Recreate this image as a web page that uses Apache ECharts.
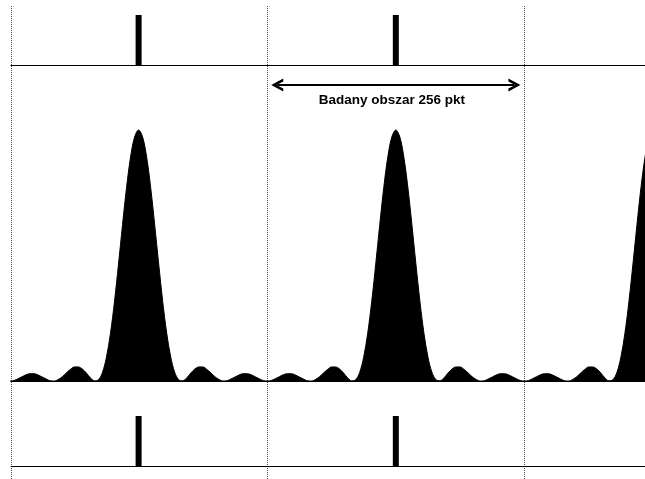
<!DOCTYPE html>
<html><head><meta charset="utf-8">
<script src="https://cdn.jsdelivr.net/npm/echarts@6/dist/echarts.min.js"></script>
<style>html,body{margin:0;padding:0;background:#fff}#c{width:645px;height:479px}</style>
</head><body><div id="c"></div>
<script>
// sample positions (points)
const sampleX = [
-1,3,7,11,15,19,23,27,31,35,39,43,47,51,55,59,63,67,71,75,79,83,87,91,95,99,103,107,111,115,119,123,
127,131,135,139,143,147,151,155,159,163,167,171,175,179,183,187,191,195,199,203,207,211,215,219,223,227,231,235,239,243,247,251,
255,259,263,267,271,275,279,283,287,291,295,299,303,307,311,315,319,323,327,331,335,339,343,347,351,355,359,363,367,371,375,379,
383,387,391,395,399,403,407,411,415,419,423,427,431,435,439,443,447,451,455,459,463,467,471,475,479,483,487,491,495,499,503,507,
511,515,519,523,527,531,535,539,543,547,551,555,559,563,567,571,575,579,583,587,591,595,599,603,607,611,615,619,623,627,631,635,
639,643
];
// signal amplitude (peak = 1)
const signal = [
0.000,0.002,0.009,0.017,0.025,0.029,0.029,0.024,0.016,0.008,0.001,0.000,0.006,0.017,0.032,0.046,0.056,0.056,0.048,0.032,0.013,0.001,0.005,0.034,0.095,0.190,0.317,0.466,0.623,0.771,0.892,0.972,
1.000,0.972,0.892,0.771,0.623,0.466,0.317,0.190,0.095,0.034,0.005,0.001,0.013,0.032,0.048,0.056,0.056,0.046,0.032,0.017,0.006,0.000,0.001,0.008,0.016,0.024,0.029,0.029,0.025,0.017,0.009,0.002,
0.000,0.002,0.009,0.017,0.025,0.029,0.029,0.024,0.016,0.008,0.001,0.000,0.006,0.017,0.032,0.046,0.056,0.056,0.048,0.032,0.013,0.001,0.005,0.034,0.095,0.190,0.317,0.466,0.623,0.771,0.892,0.972,
1.000,0.972,0.892,0.771,0.623,0.466,0.317,0.190,0.095,0.034,0.005,0.001,0.013,0.032,0.048,0.056,0.056,0.046,0.032,0.017,0.006,0.000,0.001,0.008,0.016,0.024,0.029,0.029,0.025,0.017,0.009,0.002,
0.000,0.002,0.009,0.017,0.025,0.029,0.029,0.024,0.016,0.008,0.001,0.000,0.006,0.017,0.032,0.046,0.056,0.056,0.048,0.032,0.013,0.001,0.005,0.034,0.095,0.190,0.317,0.466,0.623,0.771,0.892,0.972,
1.000,0.972
];
// marker positions (top and bottom strips)
const markerX = [127, 383];
const markerValue = [1, 1];
// analysed span annotation
const spanLabel = 'Badany obszar 256 pkt';
const spanStart = 265;
const spanEnd = 501;
const spanLevel = 1.179;

const chevron = 'path://M0,12 L6.5,0 L13,12 L10.0,12 L6.5,5.2 L3.0,12 Z';

const xCommon = { type: 'value', min: 0, max: 631, axisLabel: { show: false }, axisTick: { show: false } };
const chart = echarts.init(document.getElementById('c'), null, { renderer: 'canvas' });
chart.setOption({
  animation: false,
  backgroundColor: '#fff',
  grid: [
    { left: 11, right: 0, top: 6, bottom: 0 },
    { left: 11, right: 0, top: 15, height: 50 },
    { left: 11, right: 0, top: 65, height: 316 },
    { left: 11, right: 0, top: 416, height: 50 }
  ],
  xAxis: [
    Object.assign({}, xCommon, { gridIndex: 0, max: 633, interval: 256, axisLine: { show: false },
      splitLine: { show: true, showMaxLine: false, lineStyle: { color: '#4a4a4a', width: 1, type: [1, 1] } } }),
    Object.assign({}, xCommon, { gridIndex: 1, axisLine: { show: true, lineStyle: { color: '#000', width: 1 } }, splitLine: { show: false } }),
    Object.assign({}, xCommon, { gridIndex: 2, axisLine: { show: true, lineStyle: { color: '#000', width: 1 } }, splitLine: { show: false } }),
    Object.assign({}, xCommon, { gridIndex: 3, axisLine: { show: true, lineStyle: { color: '#000', width: 1 } }, splitLine: { show: false } })
  ],
  yAxis: [
    { gridIndex: 0, type: 'value', min: 0, max: 1, show: false },
    { gridIndex: 1, type: 'value', min: 0, max: 1, show: false },
    { gridIndex: 2, type: 'value', min: 0, max: 1.259, show: false },
    { gridIndex: 3, type: 'value', min: 0, max: 1, show: false }
  ],
  series: [
    { type: 'bar', xAxisIndex: 1, yAxisIndex: 1, barWidth: 6,
      data: markerX.map((x, i) => [x, markerValue[i]]), itemStyle: { color: '#000' } },
    { type: 'line', xAxisIndex: 2, yAxisIndex: 2, smooth: 0.35, showSymbol: false, clip: true,
      data: sampleX.map((x, i) => [x, signal[i]]),
      lineStyle: { color: '#000', width: 1 },
      areaStyle: { color: '#000', opacity: 1 },
      markLine: {
        silent: true,
        symbol: [chevron, chevron],
        symbolSize: [13, 12],
        lineStyle: { color: '#000', width: 2, type: 'solid' },
        label: { show: true, formatter: spanLabel, position: 'insideMiddleBottom', distance: 8,
          padding: [0, 8, 0, 0],
          color: '#000', fontWeight: 'bold', fontSize: 13.5, fontFamily: 'Liberation Sans, Arial, sans-serif' },
        data: [[{ coord: [spanStart, spanLevel] }, { coord: [spanEnd, spanLevel] }]]
      }
    },
    { type: 'bar', xAxisIndex: 3, yAxisIndex: 3, barWidth: 6,
      data: markerX.map((x, i) => [x, markerValue[i]]), itemStyle: { color: '#000' } }
  ]
});
</script></body></html>
